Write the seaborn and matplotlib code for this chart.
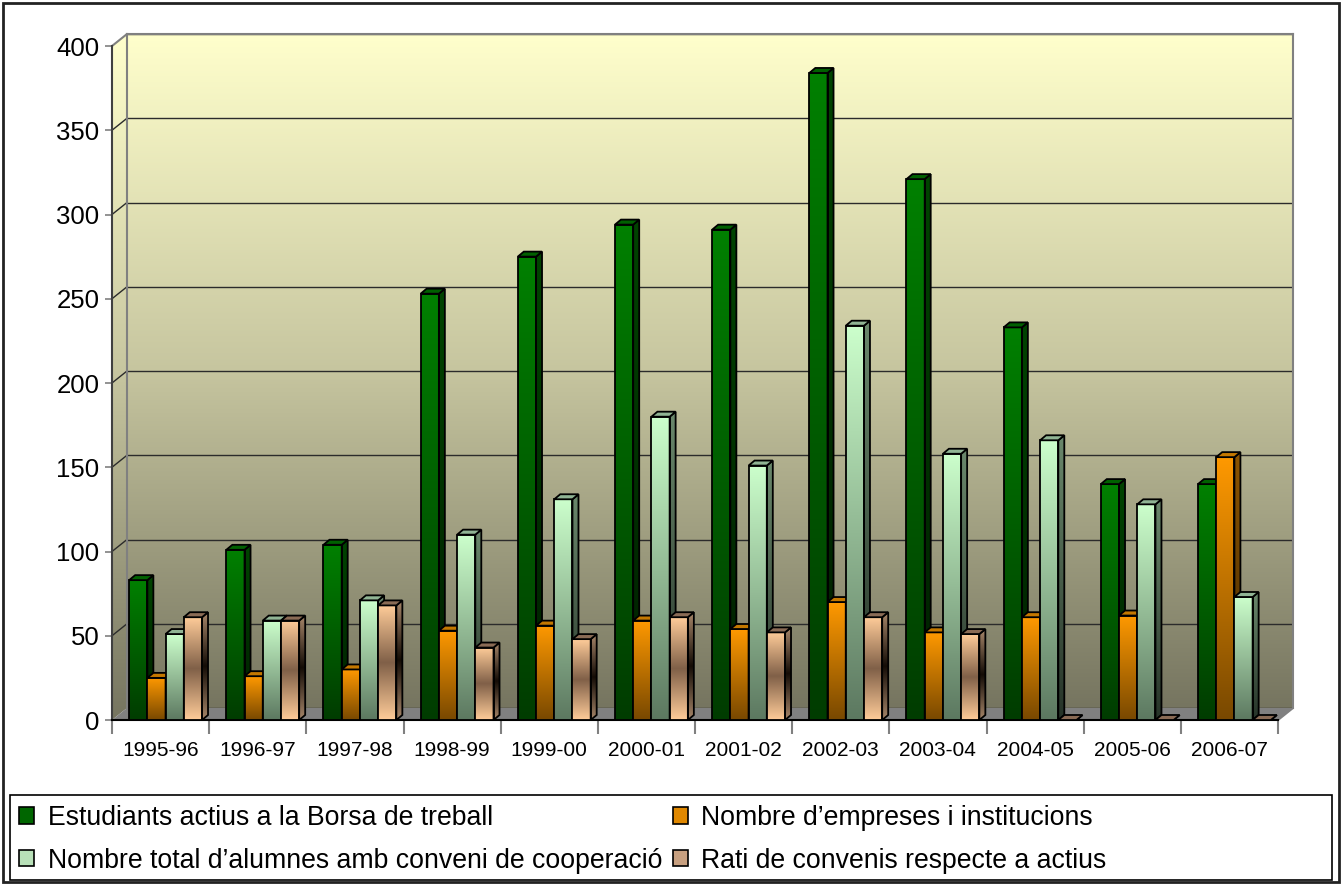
import numpy as np
import pandas as pd
import matplotlib
matplotlib.use("Agg")
import matplotlib.pyplot as plt
import matplotlib.patches as mpatches
from matplotlib.colors import LinearSegmentedColormap
import seaborn as sns

sns.set_style("white")
plt.rcParams['font.family'] = ['Liberation Sans', 'DejaVu Sans']
plt.rcParams['text.color'] = 'black'
plt.rcParams['xtick.color'] = 'black'
plt.rcParams['ytick.color'] = 'black'

# data
seasons = ["1995-96", "1996-97", "1997-98", "1998-99", "1999-00", "2000-01",
           "2001-02", "2002-03", "2003-04", "2004-05", "2005-06", "2006-07"]
estudiants = [83, 101, 104, 253, 275, 294, 291, 384, 321, 233, 140, 140]
empreses = [25, 26, 30, 53, 56, 59, 54, 70, 52, 61, 62, 156]
alumnes_conveni = [51, 59, 71, 110, 131, 180, 151, 234, 158, 166, 128, 73]
rati = [61, 59, 68, 43, 48, 61, 52, 61, 51, 0, 0, 0]
series_names = ["Estudiants actius a la Borsa de treball",
                "Nombre d’empreses i institucions",
                "Nombre total d’alumnes amb conveni de cooperació",
                "Rati de convenis respecte a actius"]

df = pd.DataFrame({
    'curs': np.tile(seasons, 4),
    'serie': np.repeat(series_names, len(seasons)),
    'valor': estudiants + empreses + alumnes_conveni + rati,
})

# colours: front gradient (bottom -> top), side gradient, top face, legend swatch
front_cols = [['#003C00', '#008000'],
              ['#784800', '#FF9900'],
              ['#5C7860', '#CCFFCC'],
              ['#FFCC99', '#806048', '#FFCC99']]
side_cols = [['#001E00', '#004400'],
             ['#3E2600', '#8C5400'],
             ['#263328', '#6A886C'],
             ['#A8876A', '#140C06', '#A8876A']]
top_cols = ['#006000', '#C47800', '#90B494', '#8A6B55']
swatch = ['#006600', '#E08800', '#B8E0B8', '#C8A080']

W, H = 1343, 885
X0, X1 = 112, 1278   # front plane, pixels
Y0, Y1 = 720, 46
DX, DY = 15, 12      # depth of the wall
fx = lambda p: p / W
fy = lambda p: 1 - p / H

fig = plt.figure(figsize=(W / 100, H / 100), dpi=100)

bg = fig.add_axes([0, 0, 1, 1], zorder=0)
bg.set_xlim(0, W)
bg.set_ylim(H, 0)
bg.axis('off')

wall = fig.add_axes([fx(X0 + DX), fy(Y0 - DY), (X1 - X0) / W, (Y0 - Y1) / H], zorder=1)
ax = fig.add_axes([fx(X0), fy(Y0), (X1 - X0) / W, (Y0 - Y1) / H], zorder=2)

grad = np.linspace(0, 1, 256).reshape(-1, 1)
wall_cmap = LinearSegmentedColormap.from_list('wall', ['#767560', '#C6C59F', '#FFFFCC'])

# back wall
wall.imshow(grad, extent=[0, 1, 0, 1], transform=wall.transAxes, cmap=wall_cmap,
            aspect='auto', origin='lower', zorder=0)
wall.set_xlim(0, 1)
wall.set_ylim(0, 400)
wall.set_yticks(np.arange(0, 401, 50))
wall.set_xticks([])
wall.grid(axis='y', color='#2b2b2b', lw=1)
wall.tick_params(length=0, labelleft=False, labelbottom=False)
wall.spines['bottom'].set_visible(False)
for s in ['left', 'top', 'right']:
    wall.spines[s].set_color('#808080')
    wall.spines[s].set_linewidth(1.5)

# floor and side wall
bg.add_patch(mpatches.Polygon([(X0, Y0), (X1, Y0), (X1 + DX, Y0 - DY), (X0 + DX, Y0 - DY)],
                              closed=True, fc='#808080', ec='none'))
bg.plot([X1, X1 + DX], [Y0, Y0 - DY], color='#808080', lw=1.5)
lw_poly = mpatches.Polygon([(X0, Y0), (X0, Y1), (X0 + DX, Y1 - DY), (X0 + DX, Y0 - DY)],
                           closed=True, fc='none', ec='none')
bg.add_patch(lw_poly)
im = bg.imshow(grad, extent=[X0, X0 + DX, Y0, Y1 - DY], cmap=wall_cmap,
               aspect='auto', origin='lower')
im.set_clip_path(lw_poly)
bg.set_xlim(0, W)
bg.set_ylim(H, 0)
bg.plot([X0, X0 + DX], [Y1, Y1 - DY], color='#808080', lw=1.5)
for v in np.arange(50, 351, 50):
    py = Y0 - v * (Y0 - Y1) / 400
    bg.plot([X0, X0 + DX], [py, py - DY], color='#2b2b2b', lw=1)

# bars
ax.patch.set_visible(False)
sns.barplot(data=df, x='curs', y='valor', hue='serie', ax=ax, width=0.75,
            saturation=1, palette=swatch, legend=False, edgecolor='black',
            linewidth=1.3, err_kws={'linewidth': 0})

ax.set_xlim(-0.5, len(seasons) - 0.5)
ax.set_ylim(0, 400)
unit_px = (X1 - X0) / len(seasons)
ddx = 6 / unit_px
ddy = 5 * 400 / (Y0 - Y1)
shift = 5 / unit_px


def shade(patch, colors, extent, z):
    cmap = LinearSegmentedColormap.from_list('', colors)
    img = ax.imshow(grad, cmap=cmap, extent=extent, origin='lower',
                    aspect='auto', zorder=z, interpolation='bilinear')
    img.set_clip_path(patch)


for i, cont in enumerate(ax.containers):
    z = 3 + i
    for rect in cont:
        rect.set_x(rect.get_x() + shift)
        x0, w, h = rect.get_x(), rect.get_width(), rect.get_height()
        x1 = x0 + w
        rect.set_facecolor('none')
        rect.set_zorder(z + 0.5)
        side = mpatches.Polygon([(x1, 0), (x1 + ddx, ddy), (x1 + ddx, h + ddy), (x1, h)],
                                closed=True, fc='none', ec='black', lw=1.3, zorder=z + 0.5)
        top = mpatches.Polygon([(x0, h), (x0 + ddx, h + ddy), (x1 + ddx, h + ddy), (x1, h)],
                               closed=True, fc=top_cols[i], ec='black', lw=1.3, zorder=z + 0.5)
        ax.add_patch(side)
        ax.add_patch(top)
        if h > 0:
            shade(rect, front_cols[i], [x0, x1, 0, h], z)
            shade(side, side_cols[i], [x1, x1 + ddx, 0, h + ddy], z)

ax.set_xlim(-0.5, len(seasons) - 0.5)
ax.set_ylim(0, 400)

ax.set_xlabel('')
ax.set_ylabel('')
ax.set_yticks(np.arange(0, 401, 50))
ax.set_xticks(range(len(seasons)))
ax.set_xticklabels(seasons)
ax.set_xticks(np.arange(-0.5, len(seasons)), minor=True)
ax.tick_params(axis='y', labelsize=18.5, length=5, color='#808080', width=1.2, pad=4,
               left=True, labelcolor='black')
ax.tick_params(axis='x', which='major', labelsize=15, length=0, pad=15, labelcolor='black')
ax.tick_params(axis='x', which='minor', length=10, color='#808080', width=1.5, bottom=True)
for s in ['top', 'right']:
    ax.spines[s].set_visible(False)
ax.spines['left'].set_color('#404040')
ax.spines['left'].set_linewidth(1.5)
ax.spines['bottom'].set_color('#000000')
ax.spines['bottom'].set_linewidth(1.5)

# legend
handles = [mpatches.Patch(fc=swatch[k], ec='black', lw=1.2) for k in range(4)]
order = [0, 2, 1, 3]
fig.legend([handles[k] for k in order], [series_names[k] for k in order], ncol=2,
           loc='upper left', bbox_to_anchor=(fx(19), fy(805)), frameon=False,
           fontsize=19.2, handlelength=0.57, handleheight=0.57, handletextpad=0.5,
           columnspacing=0.4, labelspacing=0.62, borderpad=0, borderaxespad=0,
           labelcolor='black')
fig.add_artist(mpatches.Rectangle((fx(10), fy(880)), 1322 / W, 85 / H,
                                  transform=fig.transFigure, fill=False, ec='black', lw=1.2))
fig.add_artist(mpatches.Rectangle((fx(3), fy(882)), 1336 / W, 879 / H,
                                  transform=fig.transFigure, fill=False, ec='#222222', lw=2))

fig.savefig('out.png', dpi=100)
